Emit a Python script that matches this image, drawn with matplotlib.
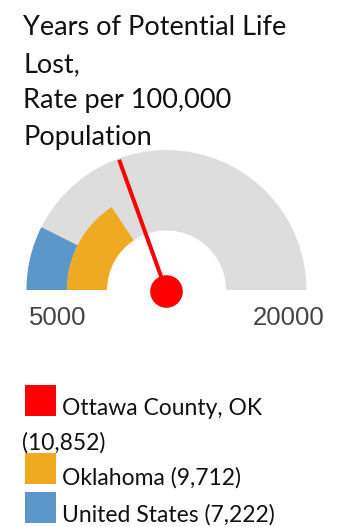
import matplotlib
matplotlib.use("Agg")
import matplotlib.pyplot as plt
from matplotlib.patches import Wedge, Circle, Rectangle

# ---- data ----
gauge_min = 5000
gauge_max = 20000
title_lines = ["Years of Potential Life", "Lost,", "Rate per 100,000", "Population"]
series_names = ["Ottawa County, OK", "Oklahoma", "United States"]
series_values = [10852, 9712, 7222]
series_colors = ["#FF0000", "#EEAB22", "#5B97C9"]
tick_labels = ["5000", "20000"]

W, H = 342, 527
fig = plt.figure(figsize=(W / 100, H / 100), dpi=100)
ax = fig.add_axes([0, 0, 1, 1])
ax.set_xlim(0, W)
ax.set_ylim(H, 0)
ax.set_aspect("equal")
ax.axis("off")

TEXT_FONT = ["Lato", "DejaVu Sans"]

# ---- title ----
title_baselines = [35, 72, 108, 145]
for line, yb in zip(title_lines, title_baselines):
    ax.text(23, yb, line, fontsize=19.5, family=TEXT_FONT, color="#111111",
            ha="left", va="baseline")

# ---- gauge ----
cx, cy = 166.5, 290
r_out, r_mid, r_in = 140, 99.5, 59.5


def angle(v):
    # y axis is inverted: 180 -> left, 270 -> top, 360 -> right
    return 180 + 180 * (v - gauge_min) / (gauge_max - gauge_min)


ax.add_patch(Wedge((cx, cy), r_out, 180, 360, width=r_out - r_in,
                   facecolor="#DDDDDD", edgecolor="none"))
# United States: outer band
ax.add_patch(Wedge((cx, cy), r_out, 180, angle(series_values[2]),
                   width=r_out - r_mid, facecolor=series_colors[2], edgecolor="none"))
# Oklahoma: inner band
ax.add_patch(Wedge((cx, cy), r_mid, 180, angle(series_values[1]),
                   width=r_mid - r_in, facecolor=series_colors[1], edgecolor="none"))

# needle for Ottawa County
import math
a = math.radians(angle(series_values[0]))
ax.plot([cx, cx + r_out * math.cos(a)], [cy + 1.5, cy + 1.5 + r_out * math.sin(a)],
        color=series_colors[0], lw=2.9, solid_capstyle="butt")
ax.add_patch(Circle((cx, cy + 1.5), 16.3, facecolor=series_colors[0], edgecolor="none"))

# gauge min/max labels
ax.text(29, 325, tick_labels[0], fontsize=18.5, family="Liberation Sans",
        color="#444444", ha="left", va="baseline")
ax.text(324, 325, tick_labels[1], fontsize=18.5, family="Liberation Sans",
        color="#444444", ha="right", va="baseline")

# ---- legend ----
sq = 31
legend_sq_top = [385, 453, 492]
legend_text = [
    [(62, 415, f"{series_names[0]}"), (22, 450, f"({series_values[0]:,})")],
    [(62, 485, f"{series_names[1]} ({series_values[1]:,})")],
    [(62, 522, f"{series_names[2]} ({series_values[2]:,})")],
]
for top, col, texts in zip(legend_sq_top, series_colors, legend_text):
    ax.add_patch(Rectangle((25, top), sq, sq, facecolor=col, edgecolor="none"))
    for (x, y, s) in texts:
        ax.text(x, y, s, fontsize=16.5, family=TEXT_FONT, color="#111111",
                ha="left", va="baseline")

fig.savefig("out.png", dpi=100)
